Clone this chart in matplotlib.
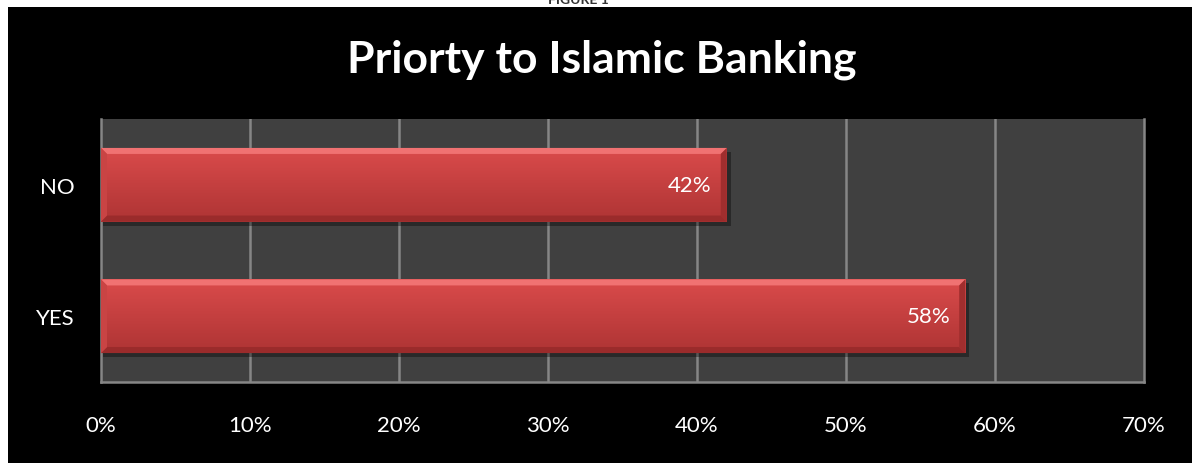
import numpy as np
import matplotlib.pyplot as plt
from matplotlib.patches import Rectangle, Polygon
from matplotlib.colors import to_rgb

plt.rcParams['font.family'] = ['Lato', 'DejaVu Sans']

title = "Priorty to Islamic Banking"
categories = ["YES", "NO"]
values = [58, 42]
xticks = [0, 10, 20, 30, 40, 50, 60, 70]

fig = plt.figure(figsize=(11.92, 4.64), dpi=100, facecolor="white")

# caption that sits above the dark panel, mostly cut off
fig.text(0.485, 1.0, "FIGURE 1", ha="center", va="center", fontsize=10,
         fontweight="bold", color="#333333", zorder=1)
fig.patches.append(Rectangle((8 / 1192, 0), 1, 456 / 464, transform=fig.transFigure,
                             facecolor="black", edgecolor="none", zorder=2))

ax = fig.add_axes([101 / 1192, 81 / 464, 1043 / 1192, 263 / 464], zorder=3)
ax.set_facecolor("#404040")
ax.set_xlim(0, 70)
ax.set_ylim(-0.5, 1.5)

for x in xticks[1:-1]:
    ax.axvline(x, color="#868686", lw=1.8, zorder=1)
for side in ["left", "bottom", "right"]:
    ax.spines[side].set_color("#868686")
    ax.spines[side].set_linewidth(1.8)
ax.spines["top"].set_visible(False)

h = 0.56
px_x = 70 / 1043
px_y = 2 / 263

top_c = np.array(to_rgb("#DA4B4B"))
bot_c = np.array(to_rgb("#AE3434"))
for i, v in enumerate(values):
    y0, y1 = i - h / 2, i + h / 2
    # drop shadow
    ax.add_patch(Rectangle((2 * px_x, y0 - 4 * px_y), v + 2 * px_x, h, facecolor="black",
                           alpha=0.35, edgecolor="none", zorder=2))
    # body with vertical gradient, light at the top
    t = np.linspace(0, 1, 80)[:, None]
    grad = top_c * (1 - t[..., None]) + bot_c * t[..., None]
    grad = grad.repeat(2, axis=1)
    im = ax.imshow(grad, extent=(0, v, y0, y1), aspect="auto", origin="upper",
                   zorder=3, interpolation="bilinear")
    clip = Rectangle((0, y0), v, h, transform=ax.transData)
    im.set_clip_path(clip)
    # bevel edges
    b = 6
    bx, by = b * px_x, b * px_y
    ax.add_patch(Polygon([(0, y1), (v, y1), (v - bx, y1 - by), (bx, y1 - by)],
                         facecolor="#F07272", edgecolor="none", zorder=4))
    ax.add_patch(Polygon([(0, y0), (v, y0), (v - bx, y0 + by), (bx, y0 + by)],
                         facecolor="#9A2B2B", edgecolor="none", zorder=4))
    ax.add_patch(Polygon([(v, y0), (v, y1), (v - bx, y1 - by), (v - bx, y0 + by)],
                         facecolor="#A02E2E", edgecolor="none", zorder=4))
    ax.add_patch(Polygon([(0, y0), (0, y1), (bx, y1 - by), (bx, y0 + by)],
                         facecolor="#C94444", edgecolor="none", zorder=4))
    ax.text(v - 15 * px_x, i, f"{v}%", ha="right", va="center", color="white",
            fontsize=16, zorder=5)

ax.set_yticks(range(len(categories)))
ax.set_yticklabels(categories)
ax.set_xticks(xticks)
ax.set_xticklabels([f"{x}%" for x in xticks])
ax.tick_params(axis="y", length=0, pad=19, labelsize=16, labelcolor="white")
ax.tick_params(axis="x", length=0, pad=24, labelsize=16, labelcolor="white")

fig.text(602 / 1192, 1 - 60 / 464, title, ha="center", va="center", color="white",
         fontsize=32, fontweight="bold", zorder=4)

fig.savefig("out.png", dpi=100, facecolor=fig.get_facecolor())
